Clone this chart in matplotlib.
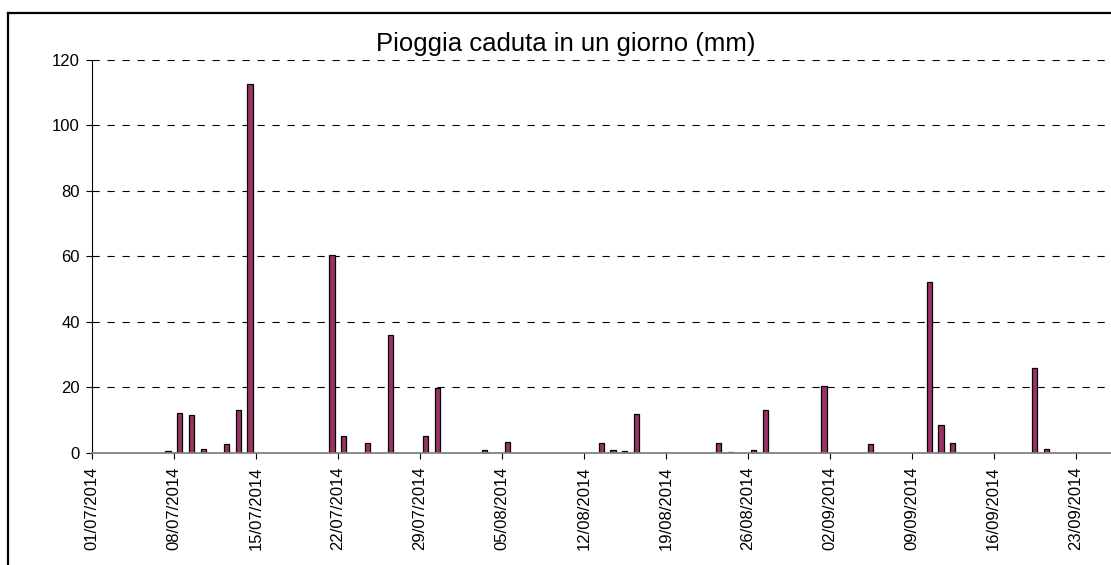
import matplotlib
matplotlib.use("Agg")
import matplotlib.pyplot as plt
import matplotlib.transforms as mtransforms
from matplotlib.lines import Line2D
import pandas as pd

plt.rcParams['font.family'] = ['Liberation Sans', 'DejaVu Sans']

# ---- data ----
title = "Pioggia caduta in un giorno (mm)"
start_date = "2014-07-01"
rain_dates = ["07/07/2014", "08/07/2014", "09/07/2014", "10/07/2014", "12/07/2014",
              "13/07/2014", "14/07/2014", "21/07/2014", "22/07/2014", "24/07/2014",
              "26/07/2014", "29/07/2014", "30/07/2014", "03/08/2014", "05/08/2014",
              "13/08/2014", "14/08/2014", "15/08/2014", "16/08/2014", "23/08/2014",
              "24/08/2014", "26/08/2014", "27/08/2014", "01/09/2014", "05/09/2014",
              "10/09/2014", "11/09/2014", "12/09/2014", "19/09/2014", "20/09/2014"]
rain_mm = [0.5, 12.0, 11.6, 1.2, 2.6,
           12.9, 112.4, 60.3, 5.0, 2.9,
           36.0, 5.0, 19.8, 0.7, 3.3,
           2.9, 0.7, 0.4, 11.9, 2.9,
           0.3, 0.7, 12.9, 20.4, 2.6,
           52.0, 8.4, 2.9, 25.9, 1.2]
tick_labels = ["01/07/2014", "08/07/2014", "15/07/2014", "22/07/2014", "29/07/2014",
               "05/08/2014", "12/08/2014", "19/08/2014", "26/08/2014", "02/09/2014",
               "09/09/2014", "16/09/2014", "23/09/2014"]
y_ticks = [0, 20, 40, 60, 80, 100, 120]

# ---- conversion to day offsets ----
t0 = pd.Timestamp(start_date)
day_pos = [(pd.to_datetime(d, format="%d/%m/%Y") - t0).days + 0.5 for d in rain_dates]
tick_pos = [(pd.to_datetime(d, format="%d/%m/%Y") - t0).days for d in tick_labels]

W, H = 1111, 565
fig = plt.figure(figsize=(W / 100, H / 100), dpi=100)
fig.patch.set_facecolor("white")

left_px, right_px = 92, 1111
top_px, base_px = 59.5, 452.7
ax = fig.add_axes([left_px / W, (H - base_px) / H,
                   (right_px - left_px) / W, (base_px - top_px) / H])

ax.bar(day_pos, rain_mm, width=0.45, color="#993366", edgecolor="black",
       linewidth=0.9, zorder=3)

px_per_day = 11.71
ax.set_xlim(0, (right_px - left_px) / px_per_day)
ax.set_ylim(0, 120)
ax.set_yticks(y_ticks)
ax.set_yticklabels([str(v) for v in y_ticks])
ax.set_xticks(tick_pos)
ax.set_xticklabels(tick_labels, rotation=90, ha="center", va="top")

offset = mtransforms.ScaledTranslation(4 / 100, 0, fig.dpi_scale_trans)
for lbl in ax.get_xticklabels():
    lbl.set_transform(lbl.get_transform() + offset)

ax.tick_params(axis="both", direction="out", length=4.3, width=0.8, color="black",
               labelsize=12, labelcolor="black")
ax.tick_params(axis="y", pad=4.5)
ax.tick_params(axis="x", pad=5.5)

for v in y_ticks[1:]:
    ax.axhline(v, color="black", linewidth=0.8, linestyle=(0, (6.5, 7.0)), zorder=1)

ax.spines["top"].set_visible(False)
ax.spines["right"].set_visible(False)
ax.spines["left"].set_color("black")
ax.spines["left"].set_linewidth(0.8)
ax.spines["bottom"].set_color("#808080")
ax.spines["bottom"].set_linewidth(1.3)
ax.spines["bottom"].set_zorder(4)

fig.text(566 / W, 1 - 44 / H, title, ha="center", va="center", fontsize=18.5,
         color="black")

# outer chart frame
fig.add_artist(Line2D([8 / W, 1.0], [1 - 13 / H, 1 - 13 / H], color="black",
                      linewidth=1.6, transform=fig.transFigure))
fig.add_artist(Line2D([8 / W, 8 / W], [0, 1 - 13 / H], color="black",
                      linewidth=1.6, transform=fig.transFigure))

fig.savefig("out.png", dpi=100, facecolor="white")
